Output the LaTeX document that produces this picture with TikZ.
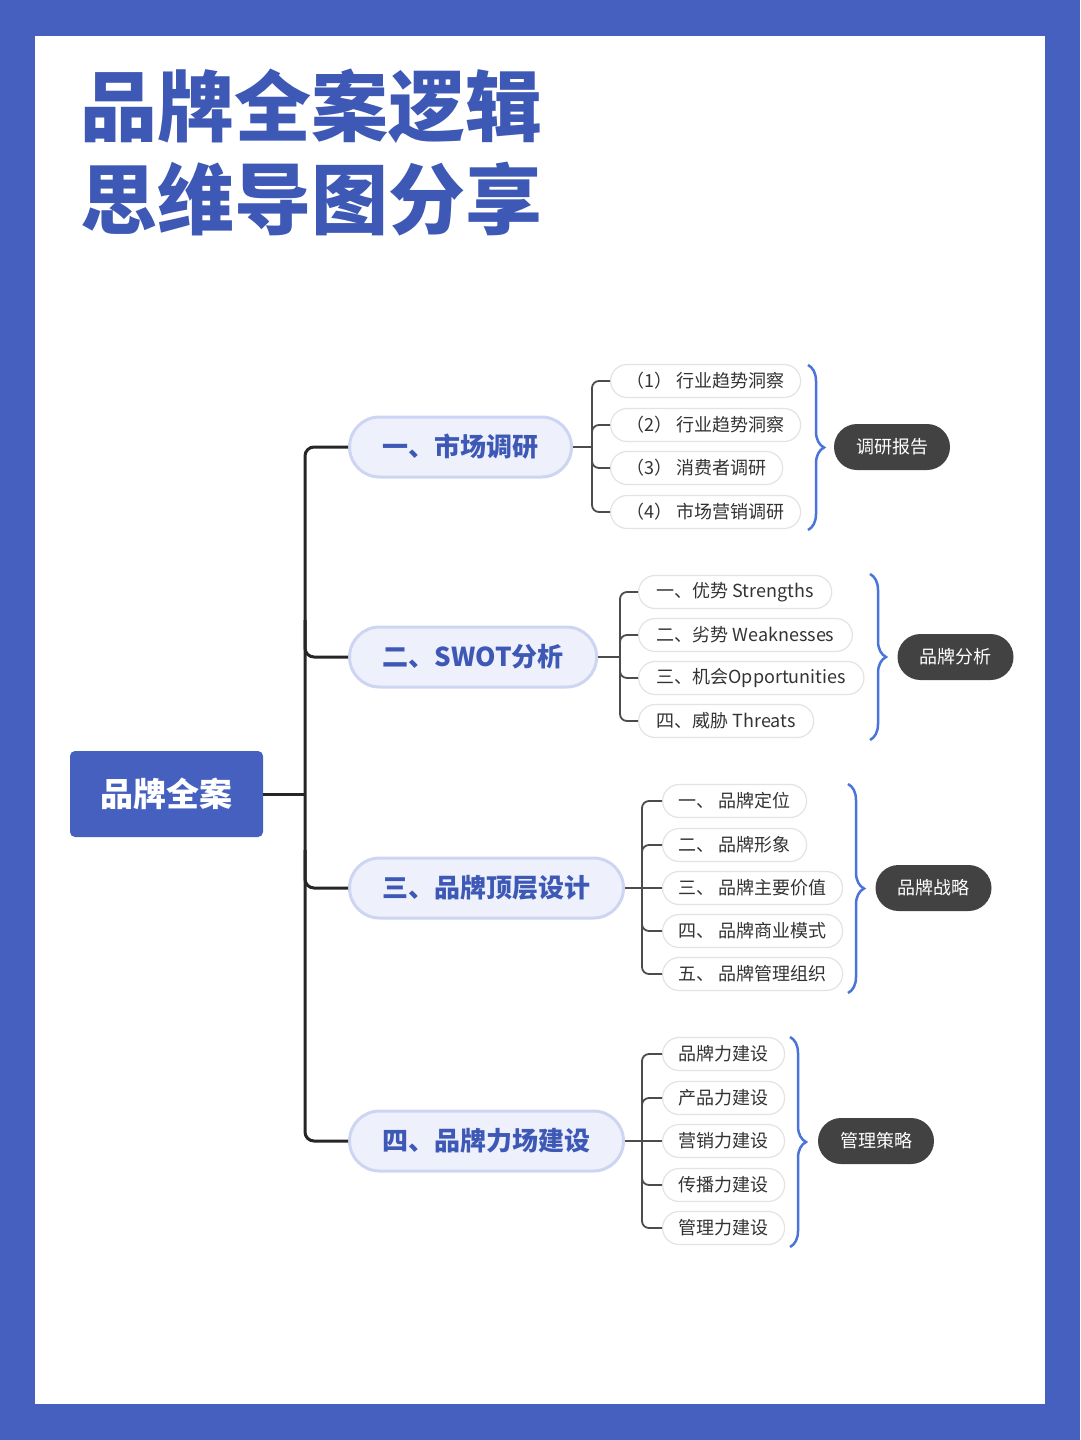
\documentclass[tikz,border=0pt]{standalone}
\usepackage{fontspec}
\setmainfont{Noto Sans CJK SC}
\newfontfamily\heavyfont{Noto Sans CJK SC Black}
\usetikzlibrary{decorations.pathreplacing}
\definecolor{frameblue}{HTML}{4560BE}
\definecolor{titleblue}{HTML}{3D58B5}
\definecolor{brfill}{HTML}{EEF1FC}
\definecolor{brline}{HTML}{CDD5F3}
\definecolor{bracecol}{HTML}{4A74D9}
\definecolor{darkpill}{HTML}{424242}
\definecolor{txt}{HTML}{333333}
\begin{document}
\begin{tikzpicture}[x=1pt,y=-1pt,
  title/.style={anchor=west,font=\heavyfont\fontsize{77}{80}\selectfont,text=titleblue,inner sep=0pt},
  rootbox/.style={rectangle,rounded corners=5pt,fill=frameblue,text=white,font=\fontsize{33}{36}\selectfont\bfseries,minimum width=193pt,minimum height=86pt,inner sep=0pt},
  branch/.style={rectangle,rounded corners=30pt,fill=brfill,draw=brline,line width=3pt,text=titleblue,font=\fontsize{26}{30}\selectfont\bfseries,minimum height=60pt,inner xsep=33pt,inner ysep=0pt,anchor=west},
  leaf/.style={rectangle,rounded corners=16.5pt,fill=white,draw=black!11,line width=1.2pt,text=txt,font=\fontsize{18}{20}\selectfont,minimum height=33pt,inner xsep=16pt,inner ysep=0pt,anchor=west},
  leafw/.style={leaf,inner xsep=18pt},
  summ/.style={rectangle,rounded corners=23pt,fill=darkpill,text=white,font=\fontsize{18}{20}\selectfont,minimum height=46pt,minimum width=116pt,inner sep=0pt},
  trunk/.style={draw=black!85,line width=3pt,rounded corners=9pt},
  twig/.style={draw=black!70,line width=1.8pt,rounded corners=7pt},
  bracedeco/.style={draw=bracecol,line width=2.5pt,decorate,decoration={brace,amplitude=16pt}}
]
\useasboundingbox (0,0) rectangle (1080,1440);
\fill[frameblue] (0,0) rectangle (1080,1440);
\fill[white] (35,36) rectangle (1045,1404);

% title
\node[title] (t1) at (80,106) {品牌全案逻辑};
\node[title] (t2) at (80,199) {思维导图分享};

% root
\node[rootbox] (root) at (166.5,794) {品牌全案};

% branches
\node[branch] (b1) at (348,447) {一、市场调研};
\node[branch] (b2) at (348,657) {二、SWOT分析};
\node[branch] (b3) at (348,888) {三、品牌顶层设计};
\node[branch] (b4) at (348,1141) {四、品牌力场建设};

% trunk connectors
\draw[trunk] (root.east) -- (305,794);
\draw[trunk] (b1.west) -| (305,794);
\draw[trunk] (b4.west) -| (305,794);
\draw[trunk] (305,620) |- (b2.west);
\draw[trunk] (305,850) |- (b3.west);

% group 1
\node[leaf] (a1) at (610,381) {（1） 行业趋势洞察};
\node[leaf] (a2) at (610,425) {（2） 行业趋势洞察};
\node[leaf] (a3) at (610,468) {（3） 消费者调研};
\node[leaf] (a4) at (610,512) {（4） 市场营销调研};
\coordinate (v1) at (592,447);
\draw[twig] (b1.east) -- (v1);
\draw[twig] (v1) |- (a1.west);
\draw[twig] (v1) |- (a2.west);
\draw[twig] (v1) |- (a3.west);
\draw[twig] (v1) |- (a4.west);
\coordinate (br1t) at (808,365);
\coordinate (br1b) at (808,530);
\draw[bracedeco] (br1t) -- (br1b);
\node[summ] (s1) at (892,447) {调研报告};

% group 2
\node[leafw] (d1) at (638,592) {一、优势 Strengths};
\node[leafw] (d2) at (638,635) {二、劣势 Weaknesses};
\node[leafw] (d3) at (638,678) {三、机会Opportunities};
\node[leafw] (d4) at (638,721) {四、威胁 Threats};
\coordinate (v2) at (620,657);
\draw[twig] (b2.east) -- (v2);
\draw[twig] (v2) |- (d1.west);
\draw[twig] (v2) |- (d2.west);
\draw[twig] (v2) |- (d3.west);
\draw[twig] (v2) |- (d4.west);
\coordinate (br2t) at (870,574);
\coordinate (br2b) at (870,740);
\draw[bracedeco] (br2t) -- (br2b);
\node[summ] (s2) at (955.5,657) {品牌分析};

% group 3
\node[leaf] (e1) at (662,801) {一、 品牌定位};
\node[leaf] (e2) at (662,845) {二、 品牌形象};
\node[leaf] (e3) at (662,888) {三、 品牌主要价值};
\node[leaf] (e4) at (662,931) {四、 品牌商业模式};
\node[leaf] (e5) at (662,974) {五、 品牌管理组织};
\coordinate (v3) at (642,888);
\draw[twig] (b3.east) -- (e3.west);
\draw[twig] (v3) |- (e1.west);
\draw[twig] (v3) |- (e2.west);
\draw[twig] (v3) |- (e4.west);
\draw[twig] (v3) |- (e5.west);
\coordinate (br3t) at (848,784);
\coordinate (br3b) at (848,993);
\draw[bracedeco] (br3t) -- (br3b);
\node[summ] (s3) at (933.5,888) {品牌战略};

% group 4
\node[leaf] (f1) at (662,1054) {品牌力建设};
\node[leaf] (f2) at (662,1098) {产品力建设};
\node[leaf] (f3) at (662,1141) {营销力建设};
\node[leaf] (f4) at (662,1185) {传播力建设};
\node[leaf] (f5) at (662,1228) {管理力建设};
\coordinate (v4) at (642,1141);
\draw[twig] (b4.east) -- (f3.west);
\draw[twig] (v4) |- (f1.west);
\draw[twig] (v4) |- (f2.west);
\draw[twig] (v4) |- (f4.west);
\draw[twig] (v4) |- (f5.west);
\coordinate (br4t) at (790,1037);
\coordinate (br4b) at (790,1247);
\draw[bracedeco] (br4t) -- (br4b);
\node[summ] (s4) at (876,1141) {管理策略};
\end{tikzpicture}
\end{document}
